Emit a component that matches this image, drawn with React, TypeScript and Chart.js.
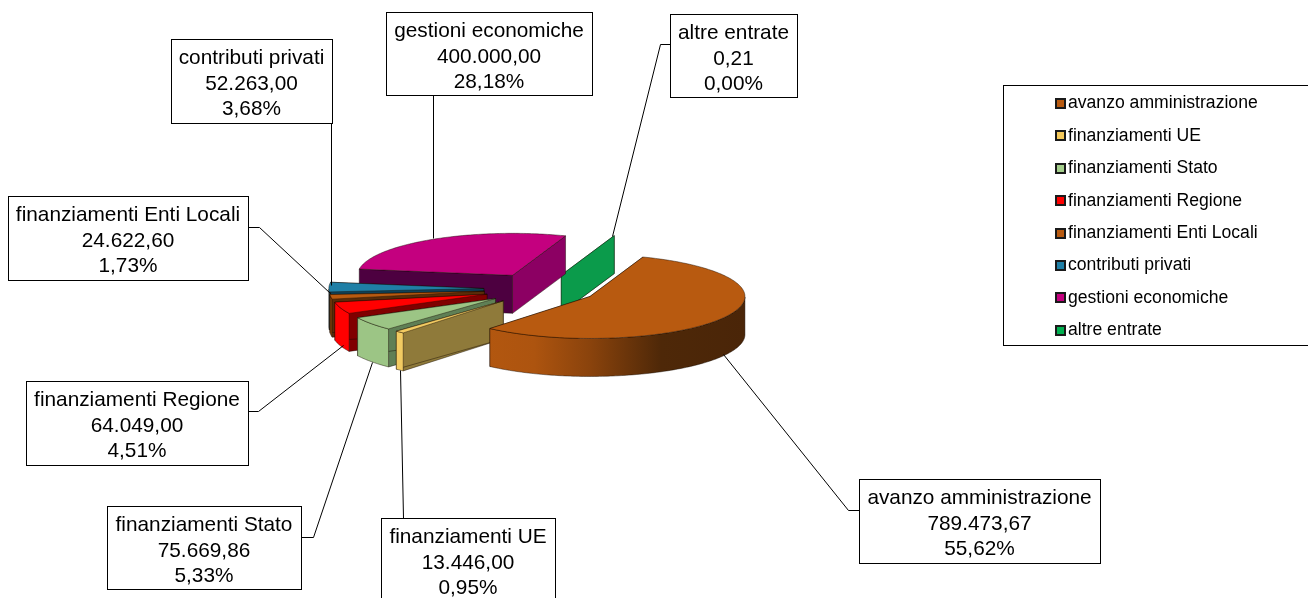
import React, { useEffect, useRef } from "react";
import { Chart, registerables } from "chart.js";

Chart.register(...registerables);

const labels = [
  "avanzo amministrazione",
  "finanziamenti UE",
  "finanziamenti Stato",
  "finanziamenti Regione",
  "finanziamenti Enti Locali",
  "contributi privati",
  "gestioni economiche",
  "altre entrate",
];
const values = [789473.67, 13446.0, 75669.86, 64049.0, 24622.6, 52263.0, 400000.0, 0.21];
const valueTexts = ["789.473,67", "13.446,00", "75.669,86", "64.049,00", "24.622,60", "52.263,00", "400.000,00", "0,21"];
const percentTexts = ["55,62%", "0,95%", "5,33%", "4,51%", "1,73%", "3,68%", "28,18%", "0,00%"];
const explosions = [86, 92, 92, 92, 92, 92, 92, 86];
const topColors = ["#B85A10", "#F2CB62", "#9CC585", "#FF0000", "#B85A10", "#1F7FA6", "#C4007F", "#0B9B4B"];
const legendColors = ["#B85A10", "#F5C95A", "#A5CF8C", "#FF0000", "#B85A10", "#1F7FA6", "#C4007F", "#00B050"];
const wallColors = ["#B85A10", "#F2CB62", "#9CC585", "#FF0000", "#7A3C0A", "#166080", "#8C0063", "#0B9B4B"];
const startCutColors = ["#5A2C08", "#8F7A3A", "#5F7F55", "#800000", "#5A2C08", "#0F4055", "#4D0040", "#0B9B4B"];
const endCutColors = ["#5A2C08", "#8F7A3A", "#5F7F55", "#800000", "#5A2C08", "#0F4055", "#8C0063", "#0B9B4B"];

// Callout layout: box [left, top, right, bottom] and leader polyline
const calloutBoxes = [
  [859, 479, 1100, 563],
  [381, 518, 555, 610],
  [107, 506, 301, 589],
  [26, 381, 248, 465],
  [8, 196, 248, 280],
  [171, 39, 332, 123],
  [386, 12, 592, 95],
  [670, 14, 797, 97],
];
const leaders = [
  [[859, 510], [848, 510], [723, 354]],
  [[403, 518], [400, 370]],
  [[301, 537], [313, 537], [372, 362]],
  [[248, 411], [258, 411], [343, 345]],
  [[248, 227], [259, 227], [330, 293]],
  [[331, 123], [331, 285]],
  [[433, 95], [433, 238]],
  [[670, 44], [660, 44], [612, 236]],
];

const RX = 155;
const RY = 42;
const DEPTH = 38;
const LABEL_FONT = '20.8px "Liberation Sans", Arial, sans-serif';
const LEGEND_FONT = '17.6px "Liberation Sans", Arial, sans-serif';
const EDGE = "rgba(20,10,0,0.55)";

const pie3d = {
  id: "pie3d",
  beforeDatasetDraw(chart: any) {
    const ctx: CanvasRenderingContext2D = chart.ctx;
    const arcs = chart.getDatasetMeta(0).data;
    ctx.save();
    for (let i = arcs.length - 1; i >= 0; i--) {
      const el = arcs[i];
      const R = el.outerRadius;
      const sx = RX / R;
      const sy = RY / R;
      const mid = (el.startAngle + el.endAngle) / 2;
      const off = el.options.offset;
      const cx = el.x + Math.cos(mid) * off * sx;
      const cy = el.y + Math.sin(mid) * off * sy;
      const pt = (a: number, dz = 0): [number, number] => [cx + Math.cos(a) * R * sx, cy + Math.sin(a) * R * sy + dz];
      const poly = (pts: [number, number][], fill: any) => {
        ctx.beginPath();
        pts.forEach((p, k) => (k ? ctx.lineTo(p[0], p[1]) : ctx.moveTo(p[0], p[1])));
        ctx.closePath();
        ctx.fillStyle = fill;
        ctx.fill();
        ctx.strokeStyle = EDGE;
        ctx.lineWidth = 0.8;
        ctx.stroke();
      };
      const s = el.startAngle;
      const e = el.endAngle;
      const a = pt(s);
      const b = pt(e);
      const c: [number, number] = [cx, cy];
      const cd: [number, number] = [cx, cy + DEPTH];
      poly([c, a, [a[0], a[1] + DEPTH], cd], startCutColors[i]);
      poly([c, b, [b[0], b[1] + DEPTH], cd], endCutColors[i]);

      // outer wall: only the front half of the rim faces the viewer
      const steps = Math.max(2, Math.ceil(((e - s) * 180) / Math.PI));
      const front: number[] = [];
      for (let k = 0; k <= steps; k++) {
        const ang = s + ((e - s) * k) / steps;
        if (Math.sin(ang) >= 0) front.push(ang);
      }
      if (front.length > 1) {
        const pts: [number, number][] = [];
        front.forEach((ang) => pts.push(pt(ang)));
        front.slice().reverse().forEach((ang) => pts.push(pt(ang, DEPTH)));
        let fill: any = wallColors[i];
        if (i === 0) {
          const g = ctx.createLinearGradient(cx + RX, 0, cx - RX, 0);
          g.addColorStop(0, "#4A2508");
          g.addColorStop(0.27, "#4E2808");
          g.addColorStop(0.5, "#8A430C");
          g.addColorStop(0.68, "#AD540F");
          g.addColorStop(1, "#B85A10");
          fill = g;
        }
        poly(pts, fill);
      }

      // top face
      if (e - s > 0.001) {
        const pts: [number, number][] = [c];
        for (let k = 0; k <= steps; k++) pts.push(pt(s + ((e - s) * k) / steps));
        poly(pts, topColors[i]);
      }
    }
    ctx.restore();
    return false;
  },
  afterDraw(chart: any) {
    const ctx: CanvasRenderingContext2D = chart.ctx;
    ctx.save();

    // leader lines
    ctx.strokeStyle = "#000000";
    ctx.lineWidth = 1;
    leaders.forEach((line) => {
      ctx.beginPath();
      line.forEach((p, k) => (k ? ctx.lineTo(p[0] + 0.5, p[1] + 0.5) : ctx.moveTo(p[0] + 0.5, p[1] + 0.5)));
      ctx.stroke();
    });

    // callouts
    ctx.textAlign = "center";
    ctx.textBaseline = "middle";
    labels.forEach((label, i) => {
      const [l, t, r, b] = calloutBoxes[i];
      ctx.fillStyle = "#FFFFFF";
      ctx.fillRect(l, t, r - l, b - t);
      ctx.strokeStyle = "#000000";
      ctx.lineWidth = 1;
      ctx.strokeRect(l + 0.5, t + 0.5, r - l, b - t);
      ctx.fillStyle = "#000000";
      ctx.font = LABEL_FONT;
      const x = (l + r) / 2;
      ctx.fillText(label, x, t + 19.5);
      ctx.fillText(valueTexts[i], x, t + 45);
      ctx.fillText(percentTexts[i], x, t + 70.5);
    });

    // legend
    ctx.fillStyle = "#FFFFFF";
    ctx.fillRect(1003, 85, 306, 260);
    ctx.strokeStyle = "#000000";
    ctx.lineWidth = 1;
    ctx.strokeRect(1003.5, 85.5, 306, 260);
    ctx.textAlign = "left";
    ctx.font = LEGEND_FONT;
    labels.forEach((label, i) => {
      const y = 103 + i * 32.4;
      ctx.fillStyle = legendColors[i];
      ctx.fillRect(1056, Math.round(y) - 4, 9, 9);
      ctx.strokeStyle = "#1A1A1A";
      ctx.lineWidth = 2;
      ctx.strokeRect(1056, Math.round(y) - 4, 9, 9);
      ctx.fillStyle = "#000000";
      ctx.fillText(label, 1068, y + 0.5);
    });
    ctx.restore();
  },
};

export default function App() {
  const ref = useRef<HTMLCanvasElement>(null);
  useEffect(() => {
    const chart = new Chart(ref.current as HTMLCanvasElement, {
      type: "pie",
      data: {
        labels,
        datasets: [{ data: values, backgroundColor: topColors, borderWidth: 0, offset: explosions }],
      },
      options: {
        animation: false,
        responsive: false,
        rotation: 20,
        layout: { padding: { left: 0, right: 223, top: 0, bottom: 20 } },
        plugins: { legend: { display: false }, tooltip: { enabled: false } },
      },
      plugins: [pie3d],
    } as any);
    return () => chart.destroy();
  }, []);
  return (
    <div style={{ position: "absolute", left: 0, top: 0, width: 1308, height: 598, background: "#FFFFFF", overflow: "hidden" }}>
      <canvas ref={ref} width={1308} height={598} style={{ display: "block" }} />
    </div>
  );
}
